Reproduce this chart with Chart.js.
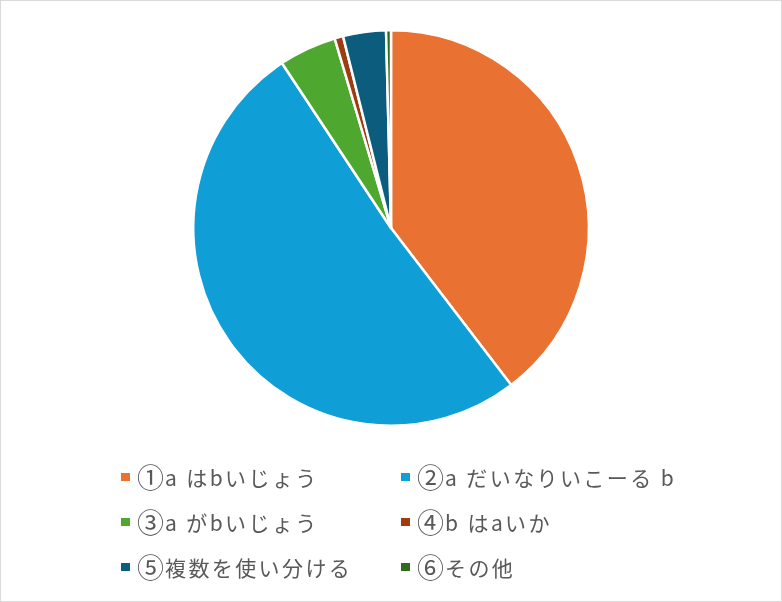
<!DOCTYPE html>
<html>
<head>
<meta charset="utf-8">
<script src="https://cdn.jsdelivr.net/npm/chart.js@4.4.1/dist/chart.umd.min.js"></script>
<style>
  html, body { margin: 0; padding: 0; background: #fff; }
  #frame { position: relative; width: 780px; height: 600px; border: 1px solid #d9d9d9; overflow: hidden; }
  #pieWrap { position: absolute; left: -1px; top: -1px; width: 782px; height: 456px; }
  #legend { position: absolute; left: 0; top: 0; width: 780px; height: 600px; pointer-events: none;
            font-family: "Noto Sans CJK JP", "Noto Sans", sans-serif; color: #595959; }
  .item { position: absolute; display: flex; align-items: center; white-space: nowrap;
          font-size: 21px; letter-spacing: 2.4px; line-height: 24px; height: 24px; }
  .box { width: 9px; height: 8px; margin-right: 7px; flex: none; }
  .num { font-size: 27px; letter-spacing: 0px; margin-right: 1px; line-height: 24px; }
</style>
</head>
<body>
<div id="frame">
  <div id="pieWrap"><canvas id="c"></canvas></div>
  <div id="legend"></div>
</div>
<script>
const categories = ["①a はbいじょう", "②a だいなりいこーる b", "③a がbいじょう", "④b はaいか", "⑤複数を使い分ける", "⑥その他"];
const values = [39.6, 51.1, 4.7, 0.7, 3.5, 0.4];
const colors = ["#E97132", "#0F9ED5", "#4EA72E", "#9C3C0F", "#0B5C7D", "#2E6B1F"];

const chart = new Chart(document.getElementById('c'), {
  type: 'pie',
  data: {
    labels: categories,
    datasets: [{
      data: values,
      backgroundColor: colors,
      borderColor: '#ffffff',
      borderWidth: 2.5
    }]
  },
  options: {
    responsive: true,
    maintainAspectRatio: false,
    animation: false,
    layout: { padding: 29 },
    plugins: { legend: { display: false }, tooltip: { enabled: false } }
  }
});

// HTML legend built from chart's legend items, 2 columns
const legendEl = document.getElementById('legend');
const items = chart.options.plugins.legend.labels.generateLabels(chart);
const colX = [120, 400];
const rowY = [464, 509, 554];
items.forEach((it, i) => {
  const d = document.createElement('div');
  d.className = 'item';
  d.style.left = colX[i % 2] + 'px';
  d.style.top = rowY[Math.floor(i / 2)] + 'px';
  const b = document.createElement('span');
  b.className = 'box';
  b.style.background = it.fillStyle;
  const n = document.createElement('span');
  n.className = 'num';
  n.textContent = it.text.charAt(0);
  const t = document.createElement('span');
  t.textContent = it.text.slice(1);
  d.appendChild(b); d.appendChild(n); d.appendChild(t);
  legendEl.appendChild(d);
});
</script>
</body>
</html>
